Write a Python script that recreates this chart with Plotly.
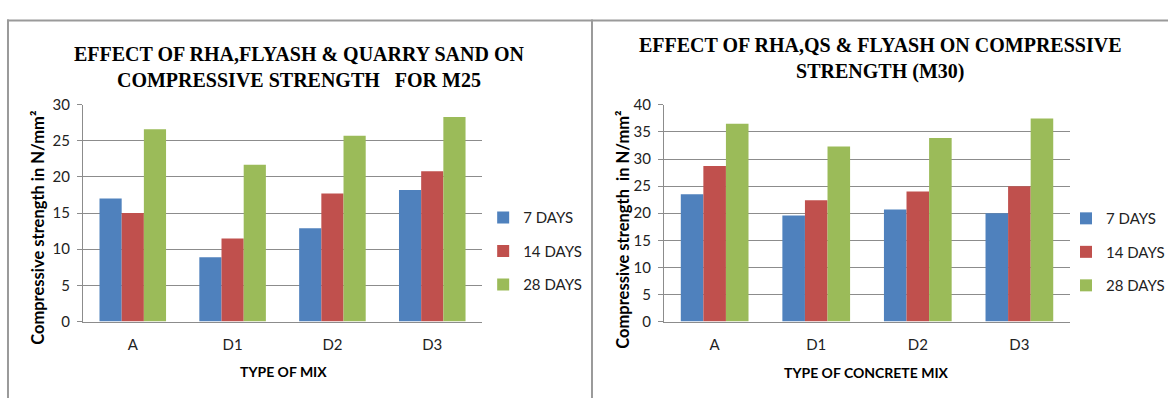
import plotly.graph_objects as go

W, H = 1170, 406

mixes = ["A", "D1", "D2", "D3"]
series_names = ["7 DAYS", "14 DAYS", "28 DAYS"]

m25_7 = [17.0, 8.9, 12.9, 18.2]
m25_14 = [15.0, 11.5, 17.7, 20.8]
m25_28 = [26.6, 21.7, 25.7, 28.3]

m30_7 = [23.5, 19.6, 20.7, 20.0]
m30_14 = [28.7, 22.4, 24.0, 25.0]
m30_28 = [36.5, 32.3, 33.9, 37.5]

colors = ["#4F81BD", "#C0504D", "#9BBB59"]

title_left = "EFFECT OF RHA,FLYASH &amp; QUARRY SAND ON<br>COMPRESSIVE STRENGTH   FOR M25"
title_right = "EFFECT OF RHA,QS &amp; FLYASH ON COMPRESSIVE<br>STRENGTH (M30)"
ytitle_left = "Compressive strength in N/mm²"
ytitle_right = "Compressive strength  in N/mm²"
xtitle_left = "TYPE OF MIX"
xtitle_right = "TYPE OF CONCRETE MIX"


def px(x):
    return x / W


def py(y):
    return 1 - y / H


SANS = "Lato, Carlito, 'Liberation Sans Narrow', Roboto, sans-serif"
SERIF = "'Liberation Serif', 'DejaVu Serif', serif"
GRID = "#8c8c8c"

fig = go.Figure()

for vals, name, col in zip([m25_7, m25_14, m25_28], series_names, colors):
    fig.add_trace(go.Bar(x=mixes, y=vals, name=name, marker=dict(color=col, line=dict(width=0)),
                         xaxis="x", yaxis="y", legend="legend", legendgroup="l" + name))
for vals, name, col in zip([m30_7, m30_14, m30_28], series_names, colors):
    fig.add_trace(go.Bar(x=mixes, y=vals, name=name, marker=dict(color=col, line=dict(width=0)),
                         xaxis="x2", yaxis="y2", legend="legend2", legendgroup="r" + name))

axis_common = dict(showline=True, linecolor=GRID, linewidth=1, tickfont=dict(family=SANS, size=15, color="#222"))
yaxis_common = dict(showgrid=True, gridcolor=GRID, gridwidth=1, ticks="outside", ticklen=5, tickcolor=GRID,
                    zeroline=False, dtick=5, ticklabelstandoff=4, **axis_common)
xaxis_common = dict(ticks="", ticklabelstandoff=9, **axis_common)
legend_common = dict(xanchor="left", yanchor="top", font=dict(family=SANS, size=15, color="#222"),
                     tracegroupgap=11, bgcolor="rgba(0,0,0,0)", itemwidth=30)

fig.update_layout(
    width=W, height=H,
    margin=dict(l=0, r=0, t=0, b=0),
    paper_bgcolor="white", plot_bgcolor="white",
    barmode="group", bargap=1 / 3, bargroupgap=0,
    showlegend=True,
    xaxis=dict(domain=[px(83), px(483)], anchor="y", **xaxis_common),
    yaxis=dict(domain=[py(326), py(99)], anchor="x", range=[0, 30], **yaxis_common),
    xaxis2=dict(domain=[px(665), px(1072)], anchor="y2", **xaxis_common),
    yaxis2=dict(domain=[py(326), py(99.3)], anchor="x2", range=[0, 40], **yaxis_common),
    legend=dict(x=px(484), y=py(200), **legend_common),
    legend2=dict(x=px(1068), y=py(201), **legend_common),
)

P = dict(xref="paper", yref="paper", showarrow=False, xanchor="center", yanchor="middle")
annotations = [
    dict(x=px(300), y=py(60), text="<b>" + title_left + "</b>",
         font=dict(family=SERIF, size=20, color="black"), **P),
    dict(x=px(882), y=py(51), text="<b>" + title_right + "</b>",
         font=dict(family=SERIF, size=20, color="black"), **P),
    dict(x=px(38), y=py(228), text="<b>" + ytitle_left + "</b>", textangle=-90,
         font=dict(family=SANS, size=16.5, color="black"), **P),
    dict(x=px(624), y=py(230), text="<b>" + ytitle_right + "</b>", textangle=-90,
         font=dict(family=SANS, size=16.5, color="black"), **P),
    dict(x=px(284), y=py(378), text="<b>" + xtitle_left + "</b>",
         font=dict(family=SANS, size=14, color="black"), **P),
    dict(x=px(868), y=py(379), text="<b>" + xtitle_right + "</b>",
         font=dict(family=SANS, size=14, color="black"), **P),
]
fig.update_layout(annotations=annotations)

border = dict(color="#9a9a9a", width=2)
fig.update_layout(shapes=[
    dict(type="line", xref="paper", yref="paper", x0=px(7), x1=1, y0=py(11), y1=py(11), line=border),
    dict(type="line", xref="paper", yref="paper", x0=px(8), x1=px(8), y0=py(10), y1=0, line=border),
    dict(type="line", xref="paper", yref="paper", x0=px(593), x1=px(593), y0=py(10), y1=0, line=border),
])

post = (
    "document.documentElement.style.margin='0';"
    "document.body.style.margin='0';document.body.style.padding='0';"
    "document.body.style.overflow='hidden';"
    "var d=document.getElementsByClassName('plotly-graph-div')[0];"
    "d.style.position='fixed';d.style.left='0px';d.style.top='0px';"
)
fig.write_html("out.html", config={"displayModeBar": False}, post_script=post)
